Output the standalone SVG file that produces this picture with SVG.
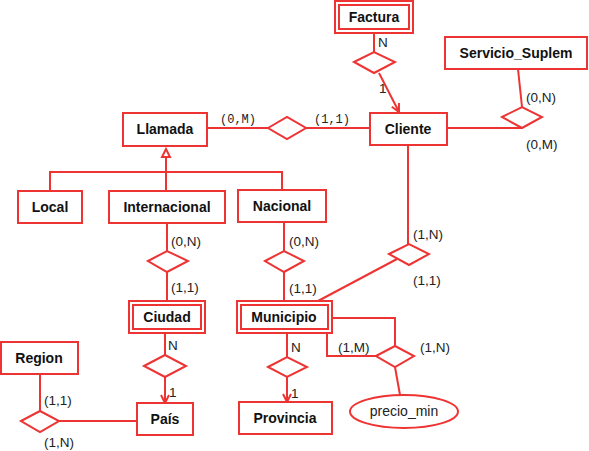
<svg xmlns="http://www.w3.org/2000/svg" width="589" height="451" viewBox="0 0 589 451">
<style>
.e{fill:#fff;stroke:#ee3333;stroke-width:2}
.d{fill:#fff;stroke:#ee3333;stroke-width:2}
.c{fill:none;stroke:#ee3333;stroke-width:2}
.t{font-family:"Liberation Sans",Arial,sans-serif;font-weight:bold;font-size:14px;fill:#111;text-anchor:middle}
.l{font-family:"Liberation Sans",Arial,sans-serif;font-size:13.5px;fill:#222}
.m{font-family:"Liberation Mono","Courier New",monospace;font-size:12px;fill:#222}
</style>
<defs>
<marker id="v" markerUnits="userSpaceOnUse" markerWidth="12" markerHeight="12" refX="9" refY="5" orient="auto">
<path d="M1,1 L9,5 L1,9" fill="none" stroke="#ee3333" stroke-width="2"/>
</marker>
</defs>
<g id="connectors">
<line class="c" x1="374" y1="33" x2="374" y2="52"/>
<line class="c" x1="379" y1="73" x2="399" y2="112" marker-end="url(#v)"/>
<line class="c" x1="207" y1="128" x2="268" y2="128"/>
<line class="c" x1="306" y1="128" x2="370" y2="128"/>
<line class="c" x1="518" y1="69" x2="522" y2="107"/>
<line class="c" x1="447" y1="128" x2="522" y2="128"/>
<line class="c" x1="166" y1="157" x2="166" y2="191"/>
<polyline class="c" points="50,191 50,172 282,172 282,190"/>
<polygon class="d" points="166,149 162,157 170,157"/>
<line class="c" x1="167" y1="223" x2="167" y2="251"/>
<line class="c" x1="167" y1="272" x2="167" y2="301"/>
<line class="c" x1="284" y1="222" x2="284" y2="251"/>
<line class="c" x1="284" y1="272" x2="284" y2="301"/>
<line class="c" x1="408" y1="145" x2="408" y2="244"/>
<line class="c" x1="397" y1="259" x2="318" y2="301"/>
<line class="c" x1="165" y1="333" x2="165" y2="355"/>
<line class="c" x1="165" y1="377" x2="165" y2="403" marker-end="url(#v)"/>
<line class="c" x1="287" y1="333" x2="287" y2="357"/>
<line class="c" x1="287" y1="377" x2="287" y2="402" marker-end="url(#v)"/>
<polyline class="c" points="332,318 395,318 395,346"/>
<polyline class="c" points="327,333 327,356 376,356"/>
<line class="c" x1="395" y1="367" x2="400" y2="395"/>
<line class="c" x1="40" y1="374" x2="40" y2="411"/>
<line class="c" x1="59" y1="421" x2="137" y2="421"/>
</g>
<g id="r_factura"><polygon class="d" points="354,62 374,52 395,62 374,73"/></g>
<g id="r_llamada_cliente"><polygon class="d" points="268,128 287,117 306,128 287,139"/></g>
<g id="r_servicio"><polygon class="d" points="502,117 522,107 542,117 522,128"/></g>
<g id="r_internacional"><polygon class="d" points="148,261 167,251 188,261 167,272"/></g>
<g id="r_nacional"><polygon class="d" points="265,261 284,251 304,261 284,272"/></g>
<g id="r_cliente_municipio"><polygon class="d" points="389,254 409,244 429,254 409,265"/></g>
<g id="r_ciudad"><polygon class="d" points="144,366 165,355 186,366 165,377"/></g>
<g id="r_municipio_provincia"><polygon class="d" points="268,367 287,357 307,367 287,377"/></g>
<g id="r_precio"><polygon class="d" points="376,356 395,346 414,356 395,367"/></g>
<g id="r_region"><polygon class="d" points="21,421 40,411 59,421 40,432"/></g>

<g id="factura"><rect class="e" x="335" y="1" width="78" height="32"/><rect class="e" x="339" y="5" width="70" height="24"/><text class="t" x="374" y="22">Factura</text></g>
<g id="servicio"><rect class="e" x="445" y="37" width="142" height="32"/><text class="t" x="516" y="58">Servicio_Suplem</text></g>
<g id="llamada"><rect class="e" x="123" y="113" width="84" height="33"/><text class="t" x="165" y="134">Llamada</text></g>
<g id="cliente"><rect class="e" x="370" y="113" width="77" height="32"/><text class="t" x="408" y="134">Cliente</text></g>
<g id="local"><rect class="e" x="18" y="191" width="64" height="32"/><text class="t" x="50" y="212">Local</text></g>
<g id="internacional"><rect class="e" x="109" y="191" width="116" height="32"/><text class="t" x="167" y="212">Internacional</text></g>
<g id="nacional"><rect class="e" x="238" y="190" width="88" height="32"/><text class="t" x="282" y="211">Nacional</text></g>
<g id="ciudad"><rect class="e" x="129" y="301" width="76" height="32"/><rect class="e" x="133" y="305" width="68" height="24"/><text class="t" x="167" y="322">Ciudad</text></g>
<g id="municipio"><rect class="e" x="237" y="301" width="95" height="32"/><rect class="e" x="241" y="305" width="87" height="24"/><text class="t" x="284" y="322">Municipio</text></g>
<g id="region"><rect class="e" x="1" y="342" width="77" height="32"/><text class="t" x="39" y="363">Region</text></g>
<g id="pais"><rect class="e" x="137" y="403" width="56" height="32"/><text class="t" x="165" y="424">País</text></g>
<g id="provincia"><rect class="e" x="239" y="402" width="93" height="32"/><text class="t" x="285" y="423">Provincia</text></g>
<g id="precio_min"><ellipse class="e" cx="404" cy="411.5" rx="54" ry="16.5"/><text class="l" x="404" y="416" text-anchor="middle" style="font-size:14px">precio_min</text></g>

<g id="labels">
<text class="l" x="378" y="47">N</text>
<text class="l" x="379" y="93">1</text>
<text class="m" x="220" y="123">(0,M)</text>
<text class="m" x="314" y="123">(1,1)</text>
<text class="l" x="526" y="102">(0,N)</text>
<text class="l" x="526" y="149">(0,M)</text>
<text class="l" x="171" y="246">(0,N)</text>
<text class="l" x="171" y="292">(1,1)</text>
<text class="l" x="289" y="246">(0,N)</text>
<text class="l" x="289" y="293">(1,1)</text>
<text class="l" x="413" y="239">(1,N)</text>
<text class="l" x="413" y="285">(1,1)</text>
<text class="l" x="168" y="350">N</text>
<text class="l" x="169" y="397">1</text>
<text class="l" x="291" y="352">N</text>
<text class="l" x="291" y="398">1</text>
<text class="l" x="338" y="352">(1,M)</text>
<text class="l" x="420" y="352">(1,N)</text>
<text class="l" x="44" y="405">(1,1)</text>
<text class="l" x="44" y="447">(1,N)</text>
</g>
</svg>
